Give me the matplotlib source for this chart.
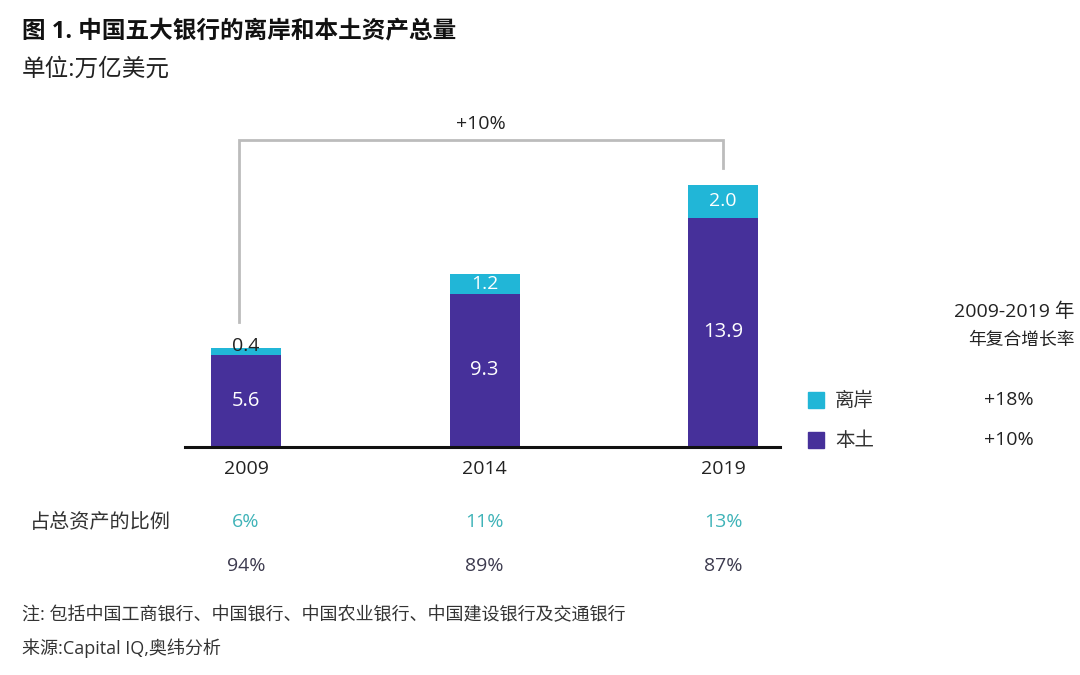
import matplotlib
matplotlib.use("Agg")
import matplotlib.pyplot as plt
from matplotlib.transforms import blended_transform_factory
import numpy as np

plt.rcParams['font.family'] = ['Open Sans', 'Noto Sans CJK SC', 'DejaVu Sans']
CJK = ['Noto Sans CJK SC', 'DejaVu Sans']

# ---- data ----
years = ["2009", "2014", "2019"]
domestic = [5.6, 9.3, 13.9]      # 本土
offshore = [0.4, 1.2, 2.0]       # 离岸
share_offshore = ["6%", "11%", "13%"]
share_domestic = ["94%", "89%", "87%"]
cagr_total = "+10%"
cagr_offshore = "+18%"
cagr_domestic = "+10%"
series_names = ["离岸", "本土"]

title = "图 1. 中国五大银行的离岸和本土资产总量"
subtitle = "单位:万亿美元"
row_label = "占总资产的比例"
note = "注: 包括中国工商银行、中国银行、中国农业银行、中国建设银行及交通银行"
source = "来源:Capital IQ,奥纬分析"
cagr_header = ["2009-2019 年", "年复合增长率"]

C_DOM = "#46309a"
C_OFF = "#21b6d7"
C_SHARE_OFF = "#3fb3b8"
C_SHARE_DOM = "#3d3b4f"
C_TEXT = "#222222"

W, H = 1080, 675
fig = plt.figure(figsize=(W / 100, H / 100), dpi=100)
fig.patch.set_facecolor("white")

def fx(x):
    return x / W

def fy(y):
    return 1 - y / H

# axes: x from 185 to 780 px, baseline at 447 px, top at 100 px
ax_left, ax_right, ax_base, ax_top = 185, 780, 447, 100
ax = fig.add_axes([fx(ax_left), fy(ax_base), (ax_right - ax_left) / W, (ax_base - ax_top) / H])

x = np.arange(len(years))
px_per_unit_x = 238.5
ax.set_xlim(-(246 - ax_left) / px_per_unit_x, (ax_right - 246) / px_per_unit_x)
px_per_unit_y = 16.5
ax.set_ylim(0, (ax_base - ax_top) / px_per_unit_y)

bw = 70 / px_per_unit_x
ax.bar(x, domestic, width=bw, color=C_DOM, zorder=2)
ax.bar(x, offshore, width=bw, bottom=domestic, color=C_OFF, zorder=2)

for spine in ["top", "right", "left"]:
    ax.spines[spine].set_visible(False)
ax.spines["bottom"].set_linewidth(2.2)
ax.spines["bottom"].set_color("#111111")
ax.set_yticks([])
ax.set_xticks(x)
ax.set_xticklabels(years, fontsize=14, color=C_TEXT)
ax.tick_params(axis="x", length=0, pad=9)

# labels inside bars
for i in range(len(years)):
    ax.text(x[i], domestic[i] / 2, f"{domestic[i]:.1f}", ha="center", va="center",
            color="white", fontsize=14.5)
    tot = domestic[i] + offshore[i]
    if offshore[i] < 1:
        ax.text(x[i], tot + 0.1, f"{offshore[i]:.1f}", ha="center", va="center",
                color=C_TEXT, fontsize=14)
    else:
        ax.text(x[i], domestic[i] + offshore[i] / 2, f"{offshore[i]:.1f}", ha="center",
                va="center", color="white", fontsize=14)

# bracket for total CAGR
tot0 = domestic[0] + offshore[0]
tot2 = domestic[-1] + offshore[-1]
top_y = 18.6
bx0 = x[0] - 0.03
bx2 = x[-1]
ax.plot([bx0, bx0, bx2, bx2], [tot0 + 1.55, top_y, top_y, tot2 + 1.0],
        color="#bcbcbc", lw=2, solid_joinstyle="miter", clip_on=False, zorder=1)
ax.text((bx0 + bx2) / 2, top_y + 0.95, cagr_total, ha="center", va="center",
        fontsize=14, color=C_TEXT)

# share rows
tr = blended_transform_factory(ax.transData, fig.transFigure)
for i in range(len(years)):
    ax.text(x[i], fy(522), share_offshore[i], transform=tr, ha="center", va="center",
            fontsize=14, color=C_SHARE_OFF)
    ax.text(x[i], fy(566), share_domestic[i], transform=tr, ha="center", va="center",
            fontsize=14, color=C_SHARE_DOM)
fig.text(fx(30), fy(522), row_label, ha="left", va="center", fontsize=14.5, color="#333333",
         family=CJK)

# legend + CAGR table
fig.text(fx(1075), fy(312), cagr_header[0], ha="right", va="center", fontsize=14, color=C_TEXT)
fig.text(fx(1075), fy(340), cagr_header[1], ha="right", va="center", fontsize=12.8, color=C_TEXT,
         family=CJK)
for yy, col, name, val in [(400, C_OFF, series_names[0], cagr_offshore),
                           (440, C_DOM, series_names[1], cagr_domestic)]:
    fig.patches.append(plt.Rectangle((fx(808), fy(yy + 8)), 16 / W, 16 / H,
                                     transform=fig.transFigure, color=col, figure=fig))
    fig.text(fx(835), fy(yy), name, ha="left", va="center", fontsize=14, color="#333333",
             family=CJK)
    fig.text(fx(1009), fy(yy), val, ha="center", va="center", fontsize=14, color=C_TEXT)

# titles
fig.text(fx(22), fy(32), title, ha="left", va="center", fontsize=17, fontweight="bold",
         color="#111111")
fig.text(fx(22), fy(70), subtitle, ha="left", va="center", fontsize=17, color="#222222")

# footnotes
fig.text(fx(22), fy(615), note, ha="left", va="center", fontsize=13, color="#333333")
fig.text(fx(22), fy(648), source, ha="left", va="center", fontsize=13, color="#333333")

fig.savefig("out.png", dpi=100, facecolor="white")
